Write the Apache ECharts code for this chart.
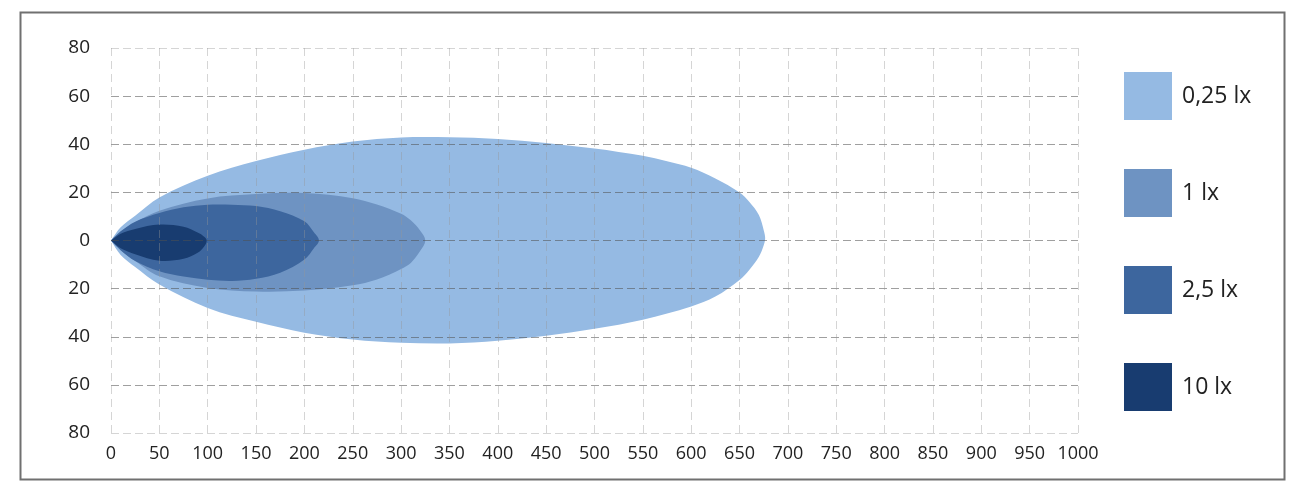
<!DOCTYPE html>
<html><head><meta charset="utf-8">
<script src="https://cdn.jsdelivr.net/npm/echarts@6/dist/echarts.min.js"></script>
<style>html,body{margin:0;padding:0;background:#fff}#c{width:1301px;height:486px}</style>
</head><body><div id="c"></div>
<script>
// Legend / series names
const seriesNames = ['0,25 lx', '1 lx', '2,5 lx', '10 lx'];
// Axis ticks
const xTicks = {min: 0, max: 1000, step: 50};
const yTicks = {min: -80, max: 80, step: 20};

// Contours (distance m, lateral m) – upper and lower halves
const upper025 = [[0,0],[10,5.5],[25,10.3],[50,17.9],[100,26.9],[150,33],[200,37.7],[250,41.1],[300,42.8],[350,42.9],[400,42.2],[450,40.5],[500,38.2],[525,36.8],[550,35.2],[575,32.9],[600,30.2],[625,25.8],[650,20],[660,16.1],[670,10.6],[675,4.3],[676.5,1]];
const lower025 = [[0,0],[10,-6],[25,-11],[50,-18.3],[100,-28],[150,-33.8],[200,-38.3],[250,-41.1],[300,-42.5],[350,-42.8],[400,-41.7],[450,-39.6],[500,-36.7],[550,-32.9],[600,-27.4],[625,-23.3],[650,-16.4],[660,-12.3],[670,-6.8],[675,-2],[676.5,1]];
const upper1 = [[0,0],[10,3.5],[25,7.5],[50,12.4],[100,17.5],[150,19.3],[200,19.7],[250,17.6],[275,15],[300,11.1],[310,8.4],[320,4],[325,0]];
const lower1 = [[0,0],[10,-4],[25,-8.5],[50,-14.9],[100,-19.7],[150,-21.2],[200,-20.8],[250,-18.6],[275,-16.2],[300,-11.8],[310,-9.3],[320,-4.2],[325,0]];
const upper25 = [[0,0],[10,3.8],[25,7.8],[50,11.4],[75,13.8],[100,14.9],[125,14.9],[150,14.3],[175,12.2],[200,8],[210,3.3],[215,0]];
const lower25 = [[0,0],[10,-4],[25,-8.5],[50,-12.8],[75,-15],[100,-16.3],[125,-16.8],[150,-15.9],[175,-13.4],[200,-7.9],[210,-3.1],[215,0]];
const upper10 = [[0,0],[10,2.8],[25,4.8],[50,6.6],[75,5.7],[90,3.2],[96,1.7],[99,0]];
const lower10 = [[0,0],[10,-3.2],[25,-5.7],[50,-8.4],[75,-7.6],[90,-5],[96,-2.7],[99,0]];

const halves = [[upper025, lower025], [upper1, lower1], [upper25, lower25], [upper10, lower10]];
const colors = ['#95bae3', '#6e93c2', '#3d669e', '#183c70'];

// smooth closed outline through pixel points; point 0 (the lamp) stays a corner
function smoothPath(P) {
  const n = P.length;
  const tang = P.map((p, i) => {
    if (i === 0) return null;
    const a = P[(i - 1 + n) % n], b = P[(i + 1) % n];
    const dx = b[0] - a[0], dy = b[1] - a[1];
    const L = Math.hypot(dx, dy) || 1;
    return [dx / L, dy / L];
  });
  let d = 'M' + P[0][0] + ',' + P[0][1];
  for (let i = 0; i < n; i++) {
    const j = (i + 1) % n;
    const p = P[i], q = P[j];
    const s = Math.hypot(q[0] - p[0], q[1] - p[1]) / 3;
    const c1 = tang[i] ? [p[0] + tang[i][0] * s, p[1] + tang[i][1] * s] : [p[0] + (q[0] - p[0]) / 3, p[1] + (q[1] - p[1]) / 3];
    const c2 = tang[j] ? [q[0] - tang[j][0] * s, q[1] - tang[j][1] * s] : [q[0] - (q[0] - p[0]) / 3, q[1] - (q[1] - p[1]) / 3];
    d += ' C' + c1[0] + ',' + c1[1] + ' ' + c2[0] + ',' + c2[1] + ' ' + q[0] + ',' + q[1];
  }
  return d + ' Z';
}

const series = halves.map((pair, i) => {
  const upper = pair[0], lower = pair[1];
  const pts = upper.concat(lower.slice(1, -1).reverse());
  return {
    name: seriesNames[i],
    type: 'custom',
    coordinateSystem: 'cartesian2d',
    color: colors[i],
    itemStyle: {color: colors[i]},
    silent: true,
    z: 2 + i,
    data: pts,
    encode: {x: 0, y: 1},
    renderItem: (params, api) => {
      if (params.dataIndex !== 0) return null;
      const poly = pts.map(p => api.coord(p));
      return {type: 'path', shape: {pathData: smoothPath(poly)}, style: {fill: colors[i]}};
    }
  };
});

const hLight = 'rgba(150,150,150,0.4)';
const hDark = 'rgba(80,80,80,0.55)';

const chart = echarts.init(document.getElementById('c'), null, {renderer: 'canvas'});
chart.setOption({
  animation: false,
  backgroundColor: '#fff',
  grid: {left: 111, right: 223, top: 48, bottom: 53, containLabel: false},
  xAxis: {
    type: 'value', min: xTicks.min, max: xTicks.max, interval: xTicks.step, z: 10,
    axisLine: {show: false}, axisTick: {show: false},
    axisLabel: {fontSize: 18, color: '#222', margin: 12, fontFamily: 'Open Sans', formatter: v => String(v)},
    splitLine: {show: true, lineStyle: {type: [8, 5], color: hLight, width: 1}}
  },
  yAxis: {
    type: 'value', min: yTicks.min, max: yTicks.max, interval: yTicks.step, z: 10,
    axisLine: {show: false}, axisTick: {show: false},
    axisLabel: {fontSize: 19, color: '#222', margin: 21, fontFamily: 'Open Sans', formatter: v => String(Math.abs(v))},
    splitLine: {show: true, lineStyle: {type: [8, 4], color: [hLight, hDark, hDark, hDark, hDark, hDark, hDark, hDark, hLight], width: 1}}
  },
  legend: {
    data: seriesNames, orient: 'vertical', left: 1119, top: 67, padding: 5,
    itemWidth: 48, itemHeight: 48, itemGap: 49, icon: 'rect', selectedMode: false,
    textStyle: {fontSize: 23, color: '#222', fontFamily: 'Open Sans', padding: [0, 0, 0, 5]}
  },
  graphic: [{
    type: 'rect', left: 18, top: 10, z: 100, silent: true,
    shape: {width: 1264, height: 467},
    style: {fill: null, stroke: '#707070', lineWidth: 2}
  }],
  series: series
});
</script></body></html>
